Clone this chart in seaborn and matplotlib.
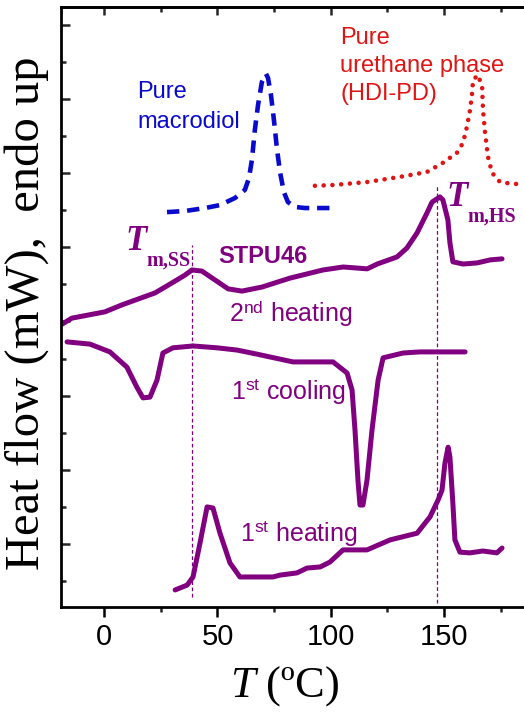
import matplotlib
matplotlib.use("Agg")
import matplotlib.pyplot as plt
import seaborn as sns
import pandas as pd
from matplotlib.ticker import FixedLocator, NullFormatter

# ---------------- data ----------------
# Pure macrodiol (blue dashed)
macrodiol_T = [27.7, 35.7, 44.5, 51.1, 57.7, 62.1, 63.9, 65.2, 66.5, 67.9, 69.6, 71.4,
               72.3, 73.6, 74.9, 76.3, 77.6, 79.3, 81.1, 84.2, 88.6, 100.5]
macrodiol_hf = [9.95, 9.98, 10.06, 10.14, 10.33, 10.55, 10.87, 11.36, 12.17, 12.84, 13.46, 13.68,
                13.57, 13.11, 12.44, 11.63, 11.03, 10.49, 10.22, 10.09, 10.06, 10.06]

# Pure urethane phase HDI-PD (red dotted)
urethane_T = [93.0, 100.9, 115.9, 130.5, 142.4, 149.5, 155.7, 158.4, 160.1, 161.5, 162.4, 162.8,
              165.0, 166.8, 167.2, 168.1, 169.4, 171.2, 174.7, 180.5, 185.3]
urethane_hf = [10.66, 10.68, 10.76, 10.90, 11.03, 11.28, 11.55, 11.82, 12.25, 12.71, 13.16, 13.51,
               13.65, 13.33, 12.71, 12.09, 11.44, 11.01, 10.76, 10.71, 10.71]

# STPU46 2nd heating
heat2_T = [-19.1, -14.3, 0.3, 7.9, 22.4, 29.9, 35.6, 38.7, 43.1, 48.9, 54.7, 60.8, 69.7, 82.0,
           96.6, 105.5, 116.1, 120.5, 129.2, 133.6, 138.1, 142.5, 144.7, 148.2, 149.5, 151.7,
           152.6, 153.9, 158.4, 164.6, 170.3, 175.6]
heat2_hf = [6.91, 7.09, 7.26, 7.45, 7.77, 8.04, 8.25, 8.39, 8.36, 8.12, 7.88, 7.82, 7.93, 8.17,
            8.39, 8.47, 8.42, 8.55, 8.74, 8.98, 9.39, 9.93, 10.22, 10.36, 10.28, 9.74,
            9.12, 8.61, 8.55, 8.58, 8.66, 8.69]

# STPU46 1st cooling
cool1_T = [-16.4, -6.3, 2.5, 10.0, 14.4, 17.1, 20.2, 23.3, 25.9, 30.3, 39.2, 49.8, 58.6, 67.4,
           83.3, 101.0, 107.2, 109.4, 110.7, 112.0, 112.9, 114.2, 116.0, 118.2, 120.9, 123.1,
           131.9, 139.4, 159.3]
cool1_hf = [6.45, 6.39, 6.18, 5.77, 5.23, 4.94, 4.96, 5.42, 6.15, 6.29, 6.34, 6.29, 6.23, 6.12,
            5.91, 5.91, 5.61, 5.15, 4.07, 2.72, 2.05, 2.05, 2.72, 4.07, 5.42, 6.02,
            6.15, 6.18, 6.18]

# STPU46 1st heating
heat1_T = [31.3, 36.6, 39.2, 42.3, 45.4, 48.0, 51.1, 55.5, 59.9, 74.5, 77.6, 85.1, 89.5, 95.3,
           99.6, 105.4, 116.0, 126.2, 138.1, 143.8, 147.4, 149.1, 150.4, 151.8, 152.6, 153.9,
           154.8, 157.0, 161.4, 167.1, 173.3, 175.6]
heat1_hf = [-0.24, -0.11, 0.11, 1.03, 2.00, 1.97, 1.29, 0.49, 0.11, 0.11, 0.16, 0.22, 0.35, 0.38,
            0.51, 0.84, 0.84, 1.11, 1.29, 1.73, 2.19, 2.45, 3.18, 3.61, 3.35, 2.10,
            1.11, 0.78, 0.76, 0.81, 0.76, 0.89]

# melting temperature markers (vertical dashed lines)
tm_T = [38.7, 146.7]
tm_top = [9.06, 10.68]
tm_bottom = [-0.43, -0.59]

x_major = [0, 50, 100, 150]
x_minor = [25, 75, 125, 175]
x_labels = ["0", "50", "100", "150"]
y_major = [1, 3, 5, 7, 9, 11, 13, 15]
y_minor = [0, 2, 4, 6, 8, 10, 12, 14]

PURPLE = "#800080"
BLUE = "#0A0ACD"
RED = "#E01414"

# ---------------- style ----------------
sns.set_theme(style="ticks")
plt.rcParams["font.family"] = ["Liberation Sans", "DejaVu Sans"]
plt.rcParams["mathtext.fontset"] = "custom"
plt.rcParams["mathtext.it"] = "Liberation Serif:italic"
plt.rcParams["mathtext.rm"] = "Liberation Sans"

W, H = 524, 717
fig = plt.figure(figsize=(W / 100, H / 100), dpi=100)
left_px, right_px, top_px, bottom_px = 60.5, 524, 6.7, 607
ax = fig.add_axes([left_px / W, 1 - bottom_px / H, (right_px - left_px) / W, (bottom_px - top_px) / H])


def draw(T, hf, color, lw, ls):
    df = pd.DataFrame({"T": T, "hf": hf})
    sns.lineplot(data=df, x="T", y="hf", ax=ax, color=color, linewidth=lw,
                 estimator=None, sort=False)
    line = ax.lines[-1]
    line.set_linestyle(ls)
    line.set_solid_capstyle("round")
    line.set_solid_joinstyle("round")
    return line


draw(heat2_T, heat2_hf, PURPLE, 3.6, "-")
draw(cool1_T, cool1_hf, PURPLE, 3.6, "-")
draw(heat1_T, heat1_hf, PURPLE, 3.6, "-")
lb = draw(macrodiol_T, macrodiol_hf, BLUE, 3.3, (0, (2.7, 1.7)))
lr = draw(urethane_T, urethane_hf, RED, 3.3, (0, (0.01, 1.9)))
lr.set_dash_capstyle("round")

ax.vlines(tm_T, tm_bottom, tm_top, colors=PURPLE, linewidth=0.9, linestyles=(0, (3, 2)))

ax.set_xlim(-19.3, 185.3)
ax.set_ylim(-0.70, 15.49)

for s in ["left", "bottom", "top"]:
    ax.spines[s].set_linewidth(2.0)
    ax.spines[s].set_color("black")
ax.spines["right"].set_visible(False)

ax.xaxis.set_major_locator(FixedLocator(x_major))
ax.xaxis.set_minor_locator(FixedLocator(x_minor))
ax.set_xticklabels(x_labels)
ax.yaxis.set_major_locator(FixedLocator(y_major))
ax.yaxis.set_minor_locator(FixedLocator(y_minor))
ax.yaxis.set_major_formatter(NullFormatter())

ax.tick_params(axis="x", which="major", direction="out", length=7.5, width=1.8,
               labelsize=21, pad=4, colors="black")
ax.tick_params(axis="x", which="minor", direction="out", length=3.8, width=1.8)
ax.tick_params(axis="y", which="major", direction="in", length=6.5, width=1.8)
ax.tick_params(axis="y", which="minor", direction="in", length=3.6, width=1.8)

sec = ax.secondary_xaxis("top")
sec.xaxis.set_major_locator(FixedLocator(x_major))
sec.xaxis.set_minor_locator(FixedLocator(x_minor))
sec.xaxis.set_major_formatter(NullFormatter())
sec.tick_params(axis="x", which="major", direction="in", length=6, width=1.8)
sec.tick_params(axis="x", which="minor", direction="in", length=3.6, width=1.8)
sec.spines["top"].set_linewidth(2.0)

ax.set_xlabel(r"$\mathit{T}$ (ºC)", fontsize=32, family="Liberation Serif", color="black")
ax.xaxis.set_label_coords(0.484, -0.095)
ax.set_ylabel("Heat flow (mW),  endo up", fontsize=35, family="Liberation Serif", color="black")
ax.yaxis.set_label_coords(-0.025, 0.49)


def ftext(px, py, s, **kw):
    fig.text(px / W, 1 - py / H, s, **kw)


ftext(137, 128, "Pure\nmacrodiol", color=BLUE, fontsize=17, ha="left", va="baseline",
      linespacing=1.45)
ftext(340, 27, "Pure\nurethane phase\n(HDI-PD)", color=RED, fontsize=17, ha="left",
      va="top", linespacing=1.35)
ftext(218, 263, "STPU46", color=PURPLE, fontsize=17, fontweight="bold", ha="left", va="baseline")

serif = "Liberation Serif"
ftext(125, 250, "T", color=PURPLE, fontsize=25, fontstyle="italic", fontweight="bold",
      family=serif, ha="left", va="baseline")
ftext(146, 266, "m,SS", color=PURPLE, fontsize=14.5, fontweight="bold", family=serif,
      ha="left", va="baseline")
ftext(446, 206, "T", color=PURPLE, fontsize=25, fontstyle="italic", fontweight="bold",
      family=serif, ha="left", va="baseline")
ftext(467, 222, "m,HS", color=PURPLE, fontsize=14.5, fontweight="bold", family=serif,
      ha="left", va="baseline")

ftext(229, 322, r"2$^{\mathrm{nd}}$ heating", color=PURPLE, fontsize=18, ha="left", va="baseline")
ftext(231, 400, r"1$^{\mathrm{st}}$ cooling", color=PURPLE, fontsize=18, ha="left", va="baseline")
ftext(240, 542, r"1$^{\mathrm{st}}$ heating", color=PURPLE, fontsize=18, ha="left", va="baseline")

fig.savefig("out.png", dpi=100)
